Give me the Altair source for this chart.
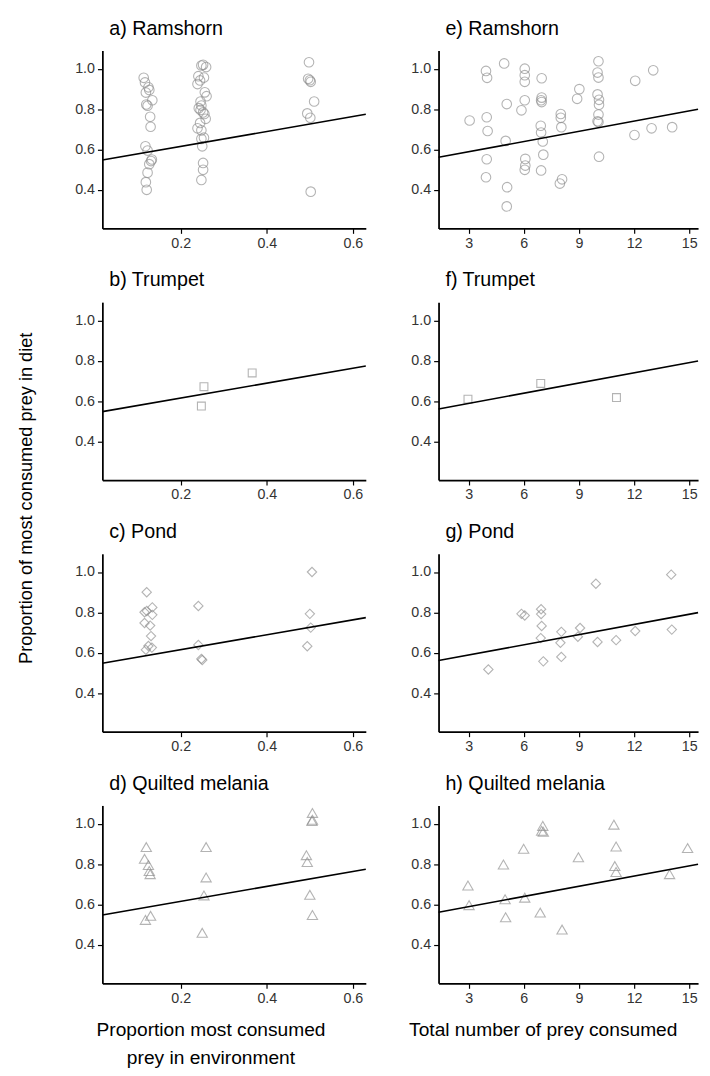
import altair as alt
import pandas as pd

# ---------------- data ----------------
# Left column: proportion of most consumed prey in environment
a_x = [0.114, 0.117, 0.125, 0.127, 0.119, 0.134, 0.120, 0.123, 0.129, 0.130, 0.118, 0.123, 0.133, 0.131, 0.127, 0.123, 0.119, 0.121,
       0.252, 0.248, 0.259, 0.241, 0.254, 0.245, 0.239, 0.256, 0.260, 0.246, 0.248, 0.242, 0.246, 0.252, 0.255, 0.258, 0.245, 0.239, 0.248, 0.254, 0.248, 0.250, 0.252, 0.252, 0.248,
       0.498, 0.496, 0.500, 0.502, 0.510, 0.494, 0.501, 0.502]
a_y = [0.955, 0.932, 0.908, 0.895, 0.882, 0.844, 0.823, 0.817, 0.762, 0.713, 0.616, 0.595, 0.551, 0.543, 0.528, 0.486, 0.439, 0.401,
       1.019, 1.016, 1.008, 0.963, 0.956, 0.942, 0.924, 0.883, 0.864, 0.838, 0.818, 0.805, 0.796, 0.784, 0.776, 0.752, 0.732, 0.705, 0.695, 0.659, 0.653, 0.616, 0.534, 0.500, 0.450,
       1.032, 0.950, 0.943, 0.935, 0.838, 0.779, 0.757, 0.392]

b_x = [0.254, 0.248, 0.366]
b_y = [0.672, 0.576, 0.740]

c_x = [0.121, 0.116, 0.121, 0.134, 0.134, 0.116, 0.129, 0.131, 0.119, 0.125, 0.133, 0.241, 0.241, 0.248, 0.250, 0.505, 0.500, 0.502, 0.494]
c_y = [0.900, 0.801, 0.807, 0.825, 0.788, 0.748, 0.735, 0.683, 0.615, 0.634, 0.626, 0.832, 0.639, 0.570, 0.565, 1.000, 0.793, 0.725, 0.633]

d_x = [0.120, 0.116, 0.125, 0.127, 0.129, 0.118, 0.130, 0.259, 0.259, 0.254, 0.250, 0.506, 0.506, 0.505, 0.492, 0.494, 0.500, 0.506]
d_y = [0.884, 0.826, 0.795, 0.766, 0.750, 0.524, 0.544, 0.884, 0.734, 0.645, 0.460, 1.053, 1.019, 1.013, 0.844, 0.810, 0.648, 0.548]

# Right column: total number of prey consumed
e_x = [3.05, 3.94, 4.00, 3.98, 4.03, 3.98, 3.94, 4.93, 5.07, 5.01, 5.09, 5.07, 6.05, 6.05, 6.05, 6.05, 5.87, 6.08, 6.08, 6.05,
       6.97, 6.97, 6.94, 6.97, 6.92, 6.94, 7.03, 7.06, 6.94, 8.01, 8.01, 8.04, 8.08, 7.96, 9.02, 8.90,
       10.06, 10.01, 10.06, 10.01, 10.09, 10.09, 10.06, 10.01, 10.06, 10.09, 12.06, 12.02, 13.04, 12.95, 14.07]
e_y = [0.744, 0.989, 0.955, 0.760, 0.692, 0.552, 0.463, 1.026, 0.825, 0.643, 0.414, 0.319, 1.000, 0.968, 0.935, 0.844, 0.794, 0.554, 0.521, 0.500,
       0.953, 0.857, 0.844, 0.835, 0.718, 0.684, 0.640, 0.575, 0.497, 0.776, 0.757, 0.711, 0.453, 0.432, 0.899, 0.851,
       1.037, 0.981, 0.956, 0.873, 0.846, 0.822, 0.773, 0.740, 0.736, 0.565, 0.940, 0.672, 0.992, 0.705, 0.711]

f_x = [2.96, 6.92, 11.04]
f_y = [0.610, 0.688, 0.618]

g_x = [4.07, 5.87, 6.05, 6.94, 6.94, 6.97, 6.92, 7.06, 8.04, 7.99, 8.04, 8.94, 9.06, 9.92, 10.01, 11.02, 12.06, 14.02, 14.05]
g_y = [0.518, 0.793, 0.785, 0.816, 0.792, 0.733, 0.673, 0.558, 0.704, 0.650, 0.580, 0.680, 0.723, 0.942, 0.654, 0.663, 0.708, 0.987, 0.715]

h_x = [2.96, 3.02, 4.89, 4.98, 5.01, 5.99, 6.05, 6.89, 7.03, 6.97, 7.06, 8.08, 8.97, 10.90, 11.02, 10.95, 11.02, 13.93, 14.91]
h_y = [0.694, 0.597, 0.798, 0.626, 0.537, 0.876, 0.634, 0.560, 0.989, 0.965, 0.960, 0.476, 0.834, 0.995, 0.887, 0.790, 0.761, 0.750, 0.879]

# fitted lines (intercept, slope)
left_fit = (0.542, 0.369)
right_fit = (0.539, 0.0168)

left_domain = [0.018, 0.63]
right_domain = [1.36, 15.48]
y_domain = [0.21, 1.09]

left_ticks = [0.2, 0.4, 0.6]
right_ticks = [3, 6, 9, 12, 15]
y_ticks = [0.4, 0.6, 0.8, 1.0]

titles = ["a) Ramshorn", "b) Trumpet", "c) Pond", "d) Quilted melania",
          "e) Ramshorn", "f) Trumpet", "g) Pond", "h) Quilted melania"]

FONT = "Liberation Sans"
PT_COLOR = "#8c8c8c"


def panel(xs, ys, shape, size, title, domain, ticks, xfmt, fit, width,
          xtitle=None, xtitle_x=0, ytitle=None):
    pts = pd.DataFrame({"x": xs, "y": ys})
    line = pd.DataFrame({"x": domain, "y": [fit[0] + fit[1] * v for v in domain]})
    lab = pd.DataFrame({"label": [title]})

    if xtitle is not None:
        xaxis = alt.Axis(values=ticks, format=xfmt, title=xtitle, titleX=xtitle_x,
                         titleY=53, titleAlign="center", titleBaseline="alphabetic",
                         titleLineHeight=29, titleAnchor="start", titleFontSize=19.5)
    else:
        xaxis = alt.Axis(values=ticks, format=xfmt, title=None)
    if ytitle is not None:
        yaxis = alt.Axis(values=y_ticks, format=".1f", title=ytitle, titleX=-78,
                         titleY=-57, titleAngle=270, titleAlign="center",
                         titleBaseline="middle", titleAnchor="start", titleFontSize=18.5)
    else:
        yaxis = alt.Axis(values=y_ticks, format=".1f", title=None)

    xenc = alt.X("x:Q", scale=alt.Scale(domain=domain, nice=False, zero=False), axis=xaxis)
    yenc = alt.Y("y:Q", scale=alt.Scale(domain=y_domain, nice=False, zero=False), axis=yaxis)

    p = alt.Chart(pts).mark_point(shape=shape, size=size, filled=False, color=PT_COLOR,
                                  opacity=0.65, strokeWidth=1.1).encode(x=xenc, y=yenc)
    l = alt.Chart(line).mark_line(color="black", strokeWidth=1.6).encode(x=xenc, y=yenc)
    t = alt.Chart(lab).mark_text(align="left", baseline="alphabetic", fontSize=20, font=FONT,
                                 color="black").encode(
        x=alt.value(7), y=alt.value(-16), text="label:N")
    return alt.layer(p, l, t).properties(width=width, height=181)


LW, RW = 268, 264
pa = panel(a_x, a_y, "circle", 95, titles[0], left_domain, left_ticks, ".1f", left_fit, LW)
pe = panel(e_x, e_y, "circle", 95, titles[4], right_domain, right_ticks, "d", right_fit, RW)
pb = panel(b_x, b_y, "square", 64, titles[1], left_domain, left_ticks, ".1f", left_fit, LW)
pf = panel(f_x, f_y, "square", 64, titles[5], right_domain, right_ticks, "d", right_fit, RW)
pc = panel(c_x, c_y, "diamond", 90, titles[2], left_domain, left_ticks, ".1f", left_fit, LW,
           ytitle="Proportion of most consumed prey in diet")
pg = panel(g_x, g_y, "diamond", 90, titles[6], right_domain, right_ticks, "d", right_fit, RW)
pd_ = panel(d_x, d_y, "triangle-up", 110, titles[3], left_domain, left_ticks, ".1f", left_fit, LW,
            xtitle=["Proportion most consumed", "prey in environment"], xtitle_x=110)
ph = panel(h_x, h_y, "triangle-up", 110, titles[7], right_domain, right_ticks, "d", right_fit, RW,
           xtitle="Total number of prey consumed", xtitle_x=106)

chart = alt.concat(pa, pe, pb, pf, pc, pg, pd_, ph, columns=2,
                   spacing=alt.RowColnumber(row=75, column=74), bounds="flush").properties(
    padding={"left": 8, "top": 2, "right": 0, "bottom": 0}
).configure_view(stroke=None).configure_axis(
    grid=False, domainColor="black", domainWidth=1.8, tickColor="black", tickWidth=1.2,
    tickSize=5, labelFont=FONT, labelFontSize=14.5, labelColor="#333333", labelPadding=3,
    titleFont=FONT, titleFontSize=19, titleFontWeight="normal", titleColor="black"
)

chart.save("out.html", embed_options={"renderer": "svg", "actions": False})
